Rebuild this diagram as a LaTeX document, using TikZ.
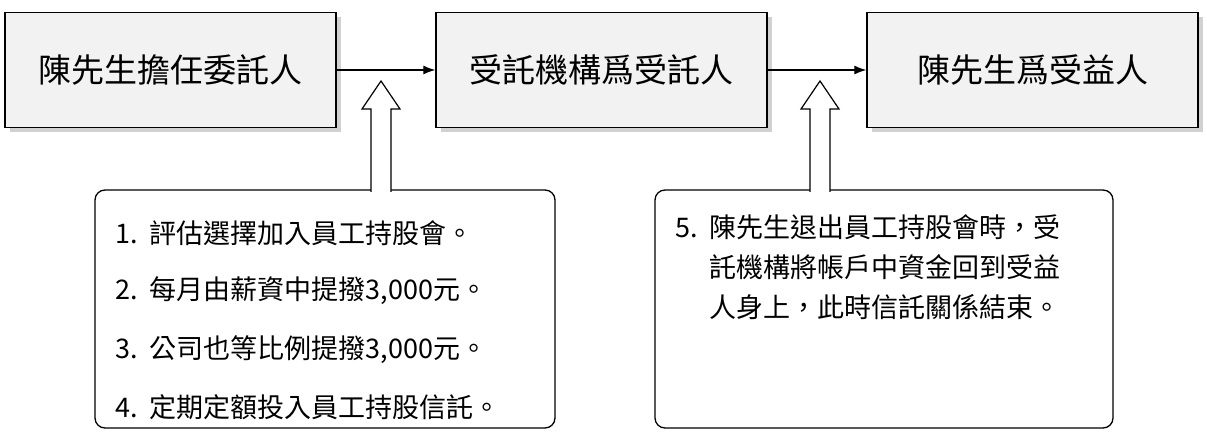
\documentclass[tikz,border=0pt]{standalone}
\usepackage{fontspec}
\usetikzlibrary{arrows.meta}
\setmainfont{Noto Sans CJK TC}
\begin{document}
\begin{tikzpicture}[x=1pt,y=-1pt,
 topbox/.style={draw,line width=1.3pt,fill=black!5,minimum width=331pt,minimum height=115pt,font=\fontsize{33}{36}\selectfont,inner sep=0pt},
 shadowbox/.style={fill=black!18,minimum width=331pt,minimum height=115pt,inner sep=0pt},
 notebox/.style={draw,line width=1.3pt,rounded corners=10pt,fill=white},
 hollow/.style={draw,line width=1.2pt,fill=white},
 lst/.style={anchor=west,font=\fontsize{27}{30}\selectfont,inner sep=0pt}]
\useasboundingbox (0,0) rectangle (1207,446);
\foreach \cx in {170.5,601.5,1032.5}{\node[shadowbox] at (\cx+5,75) {};}
\node[topbox] (a) at (170.5,70) {陳先生擔任委託人};
\node[topbox] (b) at (601.5,70) {受託機構爲受託人};
\node[topbox] (c) at (1032.5,70) {陳先生爲受益人};
\draw[-{Latex[length=12pt,width=9pt]},line width=1.2pt] (a.east) -- (b.west);
\draw[-{Latex[length=12pt,width=9pt]},line width=1.2pt] (b.east) -- (c.west);
\draw[notebox] (95,190) rectangle (555,428);
\draw[notebox] (655,190) rectangle (1113,428);
\foreach \m in {381,820}{
 \draw[hollow] (\m-10,192) -- (\m-10,109) -- (\m-19,109) -- (\m,81) -- (\m+19,109) -- (\m+10,109) -- (\m+10,192);
 \fill[white] (\m-9.4,188) rectangle (\m+9.4,193);
}
\node[lst] (l1) at (115,233) {1.\ \ 評估選擇加入員工持股會。};
\node[lst] (l2) at (115,291) {2.\ \ 每月由薪資中提撥3,000元。};
\node[lst] (l3) at (115,350) {3.\ \ 公司也等比例提撥3,000元。};
\node[lst] (l4) at (115,407) {4.\ \ 定期定額投入員工持股信託。};
\node[lst,align=left,font=\fontsize{27}{40}\selectfont,anchor=north west] (r) at (675,215) {5.\ \ 陳先生退出員工持股會時，受\\\phantom{5.\ \ }託機構將帳戶中資金回到受益\\\phantom{5.\ \ }人身上，此時信託關係結束。};
\end{tikzpicture}
\end{document}
